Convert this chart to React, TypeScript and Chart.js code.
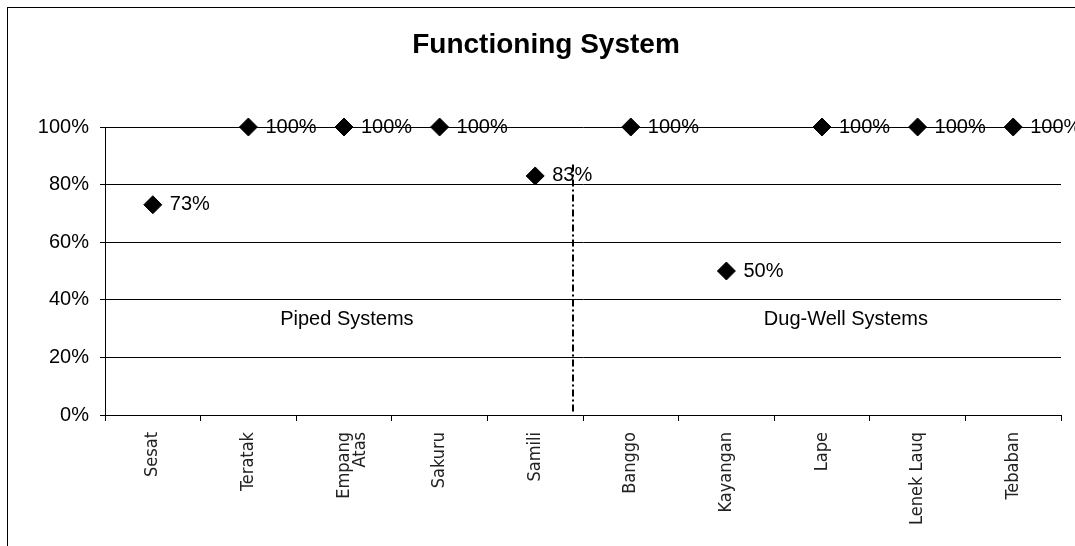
import React, { useEffect, useRef } from 'react';
import { Chart, registerables } from 'chart.js';

Chart.register(...registerables);

// ---- data ----
const chartTitle = 'Functioning System';
const villages: (string | string[])[] = [
  'Sesat',
  'Teratak',
  ['Empang', 'Atas'],
  'Sakuru',
  'Samili',
  'Banggo',
  'Kayangan',
  'Lape',
  'Lenek Lauq',
  'Tebaban',
];
const functioningShare = [0.73, 1, 1, 1, 0.83, 1, 0.5, 1, 1, 1];
const pointLabels = ['73%', '100%', '100%', '100%', '83%', '100%', '50%', '100%', '100%', '100%'];
const yTickValues = [0, 0.2, 0.4, 0.6, 0.8, 1];
const groupNames = ['Piped Systems', 'Dug-Well Systems'];
const groupNameCategory = [2.03, 7.25];
const groupNameValue = [0.33, 0.33];
const dividerCategory = 4.4;
const dividerTopValue = 0.87;
const dividerBottomValue = 0.01;

const SANS = "'Liberation Sans', Arial, Helvetica, sans-serif";
const NARROW = "'Liberation Sans Narrow', 'DejaVu Sans Condensed', 'Liberation Sans', sans-serif";

const annotationPlugin = {
  id: 'annotationPlugin',
  afterDatasetsDraw(chart: any) {
    const ctx = chart.ctx as CanvasRenderingContext2D;
    const xs = chart.scales.x;
    const ys = chart.scales.y;
    ctx.save();
    // divider line (dash-dot)
    ctx.strokeStyle = '#000';
    ctx.lineWidth = 2;
    ctx.setLineDash([7, 3, 2, 3]);
    const dx = Math.round(xs.getPixelForValue(dividerCategory));
    ctx.beginPath();
    ctx.moveTo(dx, ys.getPixelForValue(dividerTopValue));
    ctx.lineTo(dx, ys.getPixelForValue(dividerBottomValue));
    ctx.stroke();
    ctx.setLineDash([]);

    // point labels
    ctx.fillStyle = '#000';
    ctx.font = `20px ${SANS}`;
    ctx.textAlign = 'left';
    ctx.textBaseline = 'middle';
    const meta = chart.getDatasetMeta(0);
    meta.data.forEach((pt: any, i: number) => {
      ctx.fillText(pointLabels[i], pt.x + 17, pt.y);
    });

    // group names
    ctx.textAlign = 'center';
    groupNames.forEach((name, i) => {
      ctx.fillText(name, xs.getPixelForValue(groupNameCategory[i]), ys.getPixelForValue(groupNameValue[i]));
    });

    // title
    ctx.font = `bold 28px ${SANS}`;
    ctx.textBaseline = 'alphabetic';
    ctx.textAlign = 'center';
    ctx.fillText(chartTitle, 546, 53);
    ctx.restore();
  },
};

export default function App() {
  const canvasRef = useRef<HTMLCanvasElement | null>(null);

  useEffect(() => {
    if (!canvasRef.current) return;
    const chart = new Chart(canvasRef.current, {
      type: 'line',
      data: {
        labels: villages as any,
        datasets: [
          {
            data: functioningShare,
            showLine: false,
            pointStyle: 'rectRot',
            pointRadius: 9,
            pointHoverRadius: 9,
            pointBackgroundColor: '#000',
            pointBorderColor: '#000',
            pointBorderWidth: 1,
            clip: false as any,
          },
        ],
      },
      options: {
        animation: false,
        responsive: false,
        devicePixelRatio: 1,
        layout: { padding: { top: 127, right: 14, bottom: 0, left: 0 } },
        plugins: {
          legend: { display: false },
          tooltip: { enabled: false },
          title: { display: false },
        },
        scales: {
          x: {
            type: 'category',
            offset: true,
            grid: {
              offset: true,
              drawOnChartArea: false,
              drawTicks: true,
              tickLength: 6,
              color: '#000',
            },
            border: { display: true, color: '#000', width: 1 },
            ticks: {
              autoSkip: false,
              minRotation: 90,
              maxRotation: 90,
              padding: 11,
              color: '#222',
              font: { family: NARROW, size: 18, lineHeight: 0.9 },
            },
            afterFit: (s: any) => {
              s.height = 131;
            },
          },
          y: {
            min: 0,
            max: 1,
            afterBuildTicks: (s: any) => {
              s.ticks = yTickValues.map((v) => ({ value: v }));
            },
            ticks: {
              padding: 11,
              color: '#000',
              font: { family: SANS, size: 20 },
              callback: (v: any) => `${Math.round(Number(v) * 100)}%`,
            },
            grid: { color: '#000', tickLength: 5, drawTicks: true, lineWidth: 1 },
            border: { display: true, color: '#000', width: 1 },
            afterFit: (s: any) => {
              s.width = 105;
            },
          },
        },
      } as any,
      plugins: [annotationPlugin],
    });
    return () => chart.destroy();
  }, []);

  return (
    <div style={{ position: 'fixed', left: 0, top: 0, width: 1075, height: 546, overflow: 'hidden', background: '#fff' }}>
      <div
        style={{
          position: 'absolute',
          left: 7,
          top: 7,
          width: 1200,
          height: 700,
          border: '1px solid #000',
        }}
      />
      <canvas
        ref={canvasRef}
        width={1075}
        height={546}
        style={{ position: 'absolute', left: 0, top: 0, width: 1075, height: 546 }}
      />
    </div>
  );
}
